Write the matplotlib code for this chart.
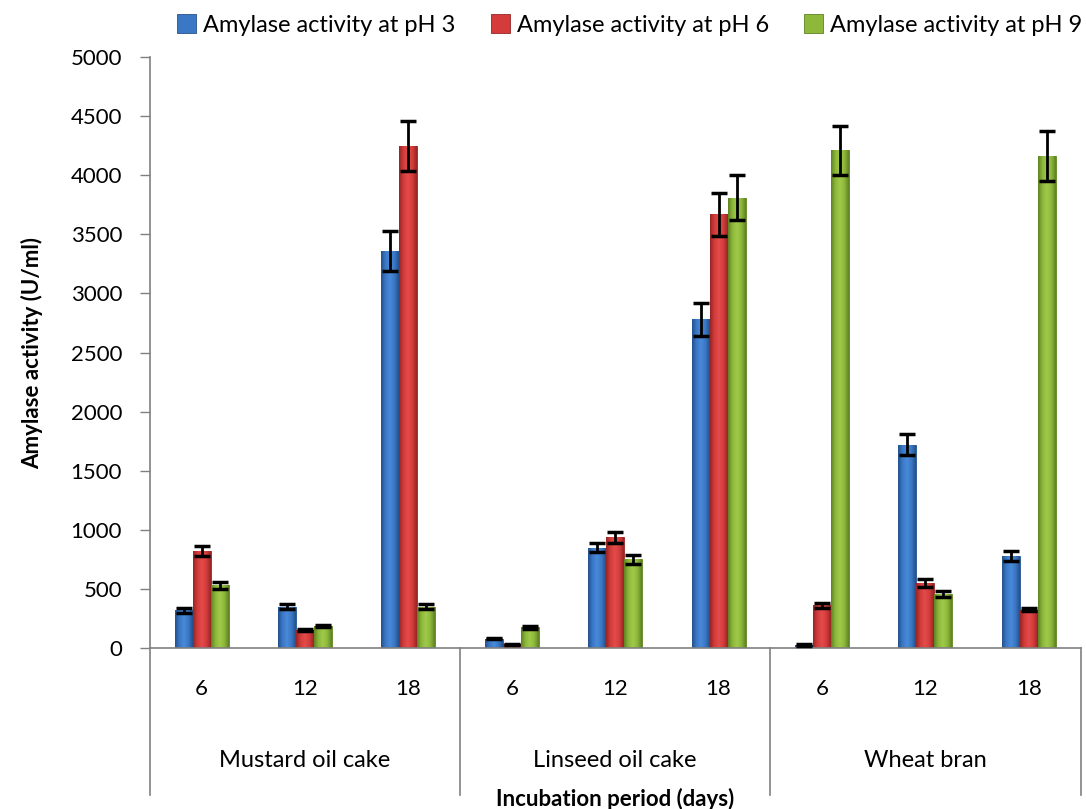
import numpy as np
import matplotlib
matplotlib.use('Agg')
import matplotlib.pyplot as plt
import matplotlib.transforms as mtransforms
from matplotlib.colors import LinearSegmentedColormap

plt.rcParams['font.family'] = ['Lato', 'DejaVu Sans']

substrates = ['Mustard oil cake', 'Linseed oil cake', 'Wheat bran']
days = ['6', '12', '18']
series = ['Amylase activity at pH 3', 'Amylase activity at pH 6', 'Amylase activity at pH 9']

ph3 = [320, 350, 3360, 80, 850, 2780, 25, 1720, 780]
ph6 = [820, 150, 4250, 30, 935, 3670, 360, 550, 325]
ph9 = [530, 185, 350, 175, 750, 3810, 4210, 460, 4160]

ph3_err = [20, 20, 170, 5, 40, 140, 5, 90, 40]
ph6_err = [40, 10, 210, 5, 45, 180, 20, 30, 15]
ph9_err = [30, 10, 20, 10, 40, 190, 210, 25, 210]

colors = ['#3a78c6', '#d43c3b', '#8db83a']
edges = ['#24518c', '#952625', '#5f8224']
lights = ['#4a8ad8', '#e24c4a', '#a0ca4a']

fig = plt.figure(figsize=(10.86, 8.09), dpi=100)
ax = fig.add_axes([0.138, 0.199, 0.857, 0.7305])

x = np.arange(9)
w = 0.174
grad = np.linspace(0, 1, 64)[None, :]
for i, (vals, errs) in enumerate([(ph3, ph3_err), (ph6, ph6_err), (ph9, ph9_err)]):
    pos = x + (i - 1) * w
    bars = ax.bar(pos, vals, w, color=colors[i], edgecolor=edges[i], linewidth=0.6,
                  label=series[i], zorder=2)
    # soft cylinder shading like the original office chart
    cmap = LinearSegmentedColormap.from_list(
        'c%d' % i, [edges[i], colors[i], lights[i], colors[i], edges[i]])
    for b in bars:
        im = ax.imshow(grad, cmap=cmap, aspect='auto', zorder=2.1,
                       extent=[b.get_x(), b.get_x() + b.get_width(), 0, b.get_height()])
        im.set_clip_path(b)
    ax.errorbar(pos, vals, yerr=errs, fmt='none', ecolor='black', elinewidth=2,
                capsize=6, capthick=2.5, zorder=3)

ax.set_xlim(-0.5, 8.5)
ax.set_ylim(0, 5000)
ax.set_yticks(np.arange(0, 5001, 500))
ax.tick_params(axis='y', labelsize=16, length=7, color='#808080', width=1, pad=13)
ax.set_xticks(x)
ax.set_xticklabels(days * 3)
ax.tick_params(axis='x', labelsize=16, length=0, pad=22)

for s in ['top', 'right']:
    ax.spines[s].set_visible(False)
for s in ['left', 'bottom']:
    ax.spines[s].set_color('#808080')
    ax.spines[s].set_linewidth(1.2)

trans = mtransforms.blended_transform_factory(ax.transData, ax.transAxes)
for xs in [-0.5, 2.5, 5.5, 8.5]:
    ax.plot([xs, xs], [0, -0.249], transform=trans, color='#808080', lw=1.2,
            clip_on=False)
for g, name in enumerate(substrates):
    ax.text(g * 3 + 1, -0.19, name, transform=trans, ha='center', va='center',
            fontsize=17)

ax.text(4, -0.256, 'Incubation period (days)', transform=trans, ha='center',
        va='center', fontsize=16, fontweight='bold')
ax.set_ylabel('Amylase activity (U/ml)', fontsize=16, fontweight='bold')
ax.yaxis.set_label_coords(-0.115, 0.5)

ax.legend(loc='center', bbox_to_anchor=(0.580, 0.969), bbox_transform=fig.transFigure,
          ncol=3, frameon=False, fontsize=17, handlelength=0.8, handleheight=0.8,
          handletextpad=0.3, columnspacing=1.5)

fig.savefig('out.png', dpi=100)
